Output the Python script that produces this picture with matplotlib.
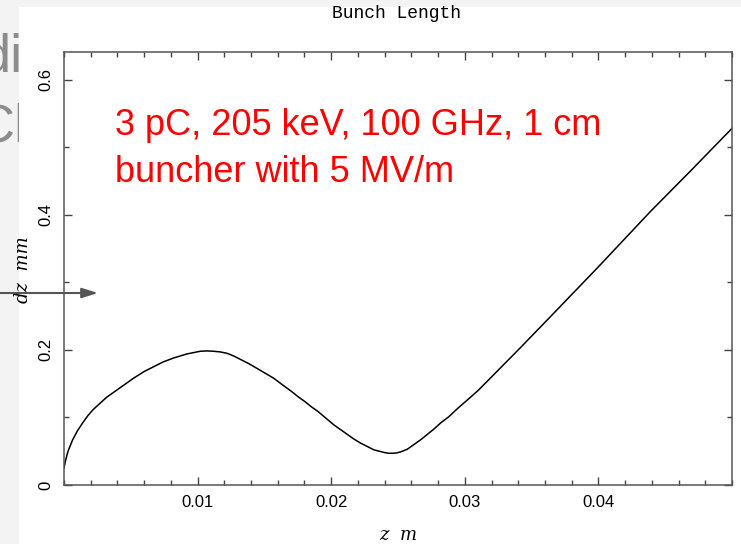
import matplotlib
matplotlib.use("Agg")
import matplotlib.pyplot as plt
from matplotlib.patches import Rectangle
from matplotlib.ticker import MultipleLocator

# bunch length along the buncher
z_m = [0.0, 0.0001, 0.0003, 0.00065, 0.0010, 0.0014, 0.0018, 0.0022, 0.0027,
       0.0032, 0.0037, 0.0042, 0.0047, 0.0052, 0.0060, 0.0067, 0.0074, 0.0082,
       0.0087, 0.0092, 0.0097, 0.0102, 0.0107, 0.0112, 0.0117, 0.0122, 0.0127,
       0.0132, 0.0138, 0.0145, 0.0151, 0.0157, 0.0163, 0.0170, 0.0175, 0.0180,
       0.0185, 0.0190, 0.0196, 0.0202, 0.0207, 0.0212, 0.0217, 0.0222, 0.0227,
       0.0232, 0.0236, 0.0240, 0.0243, 0.0246, 0.0249, 0.0252, 0.0257, 0.0262,
       0.0267, 0.0272, 0.0277, 0.0282, 0.0288, 0.0295, 0.0302, 0.0310, 0.0320,
       0.0330, 0.0340, 0.0364, 0.0400, 0.0439, 0.0470, 0.0501]
dz_mm = [0.025, 0.035, 0.050, 0.067, 0.080, 0.092, 0.103, 0.112, 0.121,
         0.130, 0.137, 0.144, 0.151, 0.158, 0.168, 0.175, 0.182, 0.188,
         0.191, 0.194, 0.196, 0.198, 0.1985, 0.198, 0.197, 0.195, 0.191,
         0.186, 0.180, 0.172, 0.165, 0.158, 0.149, 0.139, 0.131, 0.124,
         0.116, 0.109, 0.099, 0.089, 0.082, 0.075, 0.068, 0.062, 0.057,
         0.052, 0.050, 0.048, 0.047, 0.047, 0.0475, 0.049, 0.053, 0.060,
         0.067, 0.075, 0.083, 0.092, 0.101, 0.114, 0.126, 0.140, 0.160,
         0.180, 0.200, 0.249, 0.323, 0.405, 0.467, 0.530]

x_ticks = [0.01, 0.02, 0.03, 0.04]
x_tick_labels = ["0.01", "0.02", "0.03", "0.04"]
y_ticks = [0, 0.2, 0.4, 0.6]
y_tick_labels = ["0", "0.2", "0.4", "0.6"]
note_lines = ["3 pC, 205 keV, 100 GHz, 1 cm", "buncher with 5 MV/m"]

W, H = 741, 544
plt.rcParams["font.family"] = ["Liberation Sans", "DejaVu Sans"]

fig = plt.figure(figsize=(W / 100, H / 100), dpi=100, facecolor="#f3f3f3")

# pieces of the slide showing behind the pasted plot
fig.text(-19 / W, 1 - 72 / H, "di", fontsize=39, color="#8c8c8c", zorder=-3)
fig.text(-25 / W, 1 - 142 / H, "Cl", fontsize=39, color="#8c8c8c", zorder=-3)
fig.add_artist(Rectangle((19 / W, 0), 1 - 19 / W, 1 - 7 / H, transform=fig.transFigure,
                         facecolor="white", edgecolor="none", zorder=-2))

ax = fig.add_axes([64 / W, 59 / H, 668 / W, 433 / H])
ax.set_facecolor("white")
ax.plot(z_m, dz_mm, color="black", lw=1.1)

ax.set_xlim(0, 0.05)
ax.set_ylim(0, 0.641)
ax.set_xticks(x_ticks, x_tick_labels)
ax.set_yticks(y_ticks, y_tick_labels, rotation=90, va="center")
ax.xaxis.set_minor_locator(MultipleLocator(0.002))
ax.yaxis.set_minor_locator(MultipleLocator(0.1))
ax.tick_params(which="both", direction="in", top=True, right=True,
               color="#444444", width=1, labelsize=12)
ax.tick_params(which="major", length=6)
ax.tick_params(which="minor", length=3.5)
ax.tick_params(axis="x", pad=7.5)
ax.tick_params(axis="y", pad=7.5)
for s in ax.spines.values():
    s.set_color("#555555")
    s.set_linewidth(1.1)

ax.set_xlabel("z  m", family="DejaVu Serif", style="italic", fontsize=13, va="center")
ax.xaxis.set_label_coords(0.5, (485 - 535) / 433)
ax.set_ylabel("dz  mm", family="DejaVu Serif", style="italic", fontsize=13, va="center")
ax.yaxis.set_label_coords((23 - 64) / 668, 0.497)

fig.text(397 / W, 1 - 14 / H, "Bunch Length", ha="center", va="center",
         family="Liberation Mono", fontsize=13)

fig.text(115 / W, 1 - 135 / H, note_lines[0], color="red", fontsize=26)
fig.text(115 / W, 1 - 182 / H, note_lines[1], color="red", fontsize=26)

ax.annotate("", xy=(98, H - 293), xytext=(0, H - 293),
            xycoords="figure pixels", textcoords="figure pixels",
            arrowprops=dict(arrowstyle="-|>,head_length=0.8,head_width=0.25",
                            color="#555555", lw=1.5, mutation_scale=12,
                            shrinkA=0, shrinkB=0),
            annotation_clip=False)

fig.savefig("out.png", dpi=100)
